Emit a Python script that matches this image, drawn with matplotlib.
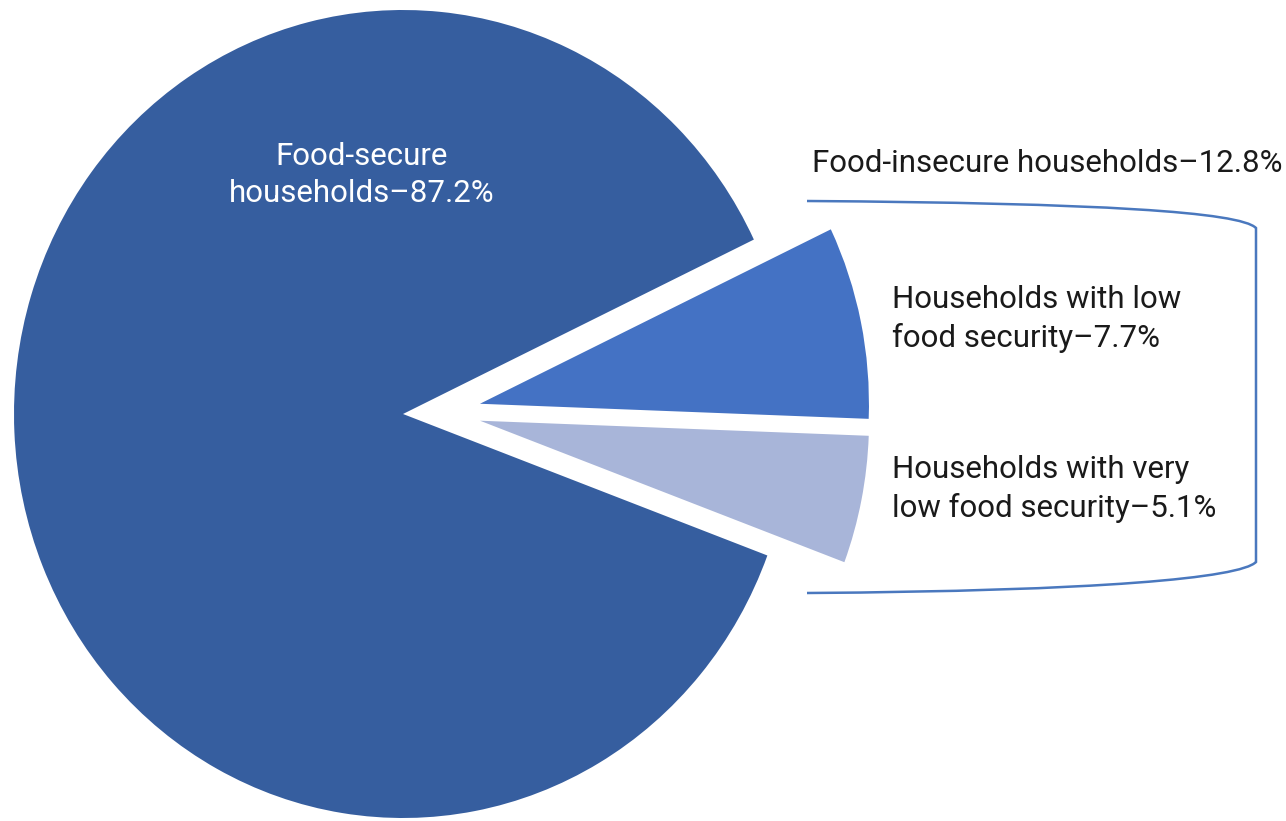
import matplotlib
matplotlib.use("Agg")
from matplotlib import pyplot as plt
from matplotlib.path import Path
from matplotlib.patches import PathPatch

plt.rcParams['font.family'] = ['Roboto', 'DejaVu Sans']

# shares of households, percent
labels = ['Households with very\nlow food security\u20135.1%',
          'Households with low\nfood security\u20137.7%',
          'Food-secure\nhouseholds\u201387.2%']
shares = [5.1, 7.7, 87.2]
group_label = 'Food-insecure households\u201312.8%'

colors = ['#a8b5d9', '#4472c4', '#365e9f']

W, H = 1286, 821
fig = plt.figure(figsize=(W / 100, H / 100), dpi=100)
ax = fig.add_axes([0, 0, 1, 1])

# image pixel -> data units (pie radius 1, slightly taller than wide)
cx, cy, sx, sy = 403, 414, 389, 404
def px(x, y):
    return (x - cx) / sx, (cy - y) / sy

start = -20.5
# big slice at the origin
ax.pie(shares, colors=['none', 'none', colors[2]], startangle=start,
       counterclock=True, radius=1, wedgeprops=dict(linewidth=0))
# the two food-insecure slices, pulled out to the right
ax.pie(shares, colors=[colors[0], colors[1], 'none'], startangle=start,
       counterclock=True, radius=1, center=(0.095, 0.004),
       explode=[0.105, 0.105, 0], wedgeprops=dict(linewidth=0))

ax.set_aspect('auto')
ax.set_xlim(-cx / sx, (W - cx) / sx)
ax.set_ylim(-(H - cy) / sy, cy / sy)
ax.axis('off')

fs = 22.5
# labels
ax.text(*px(362, 175), labels[2], color='white', fontsize=fs,
        ha='center', va='center', linespacing=1.38)
ax.text(*px(892, 319), labels[1], color='#1a1a1a', fontsize=fs,
        ha='left', va='center', linespacing=1.38)
ax.text(*px(892, 489), labels[0], color='#1a1a1a', fontsize=fs,
        ha='left', va='center', linespacing=1.38)
ax.text(*px(812, 163), group_label, color='#1a1a1a', fontsize=fs,
        ha='left', va='center')

# bracket round the two small slices
pts = [(807, 201), (1100, 203), (1240, 212), (1256, 228),
       (1256, 562),
       (1240, 578), (1100, 591), (807, 593)]
codes = [Path.MOVETO, Path.CURVE4, Path.CURVE4, Path.CURVE4,
         Path.LINETO,
         Path.CURVE4, Path.CURVE4, Path.CURVE4]
br = Path([px(x, y) for x, y in pts], codes)
ax.add_patch(PathPatch(br, facecolor='none', edgecolor='#4a78be', lw=1.8))

fig.savefig('out.png', dpi=100, facecolor='white')
